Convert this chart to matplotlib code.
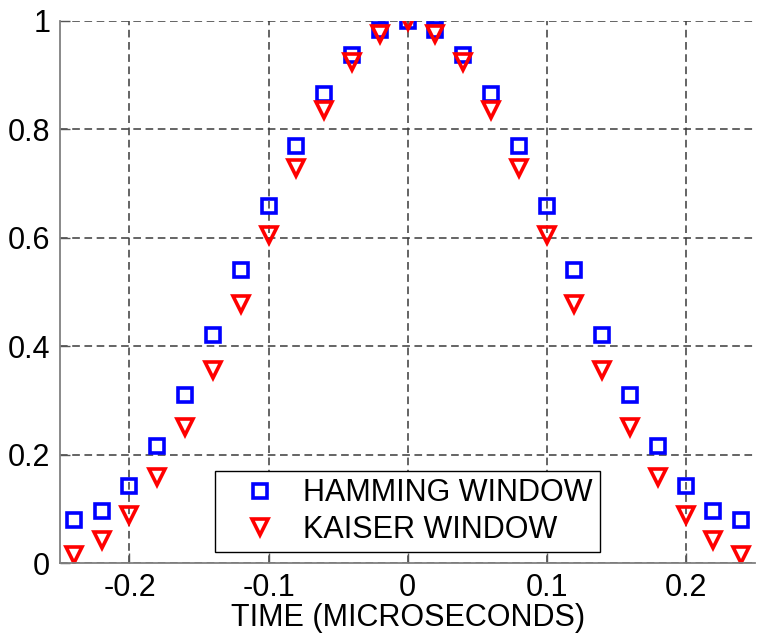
import matplotlib
matplotlib.use('Agg')
import matplotlib.pyplot as plt

plt.rcParams['font.family'] = ['Liberation Sans', 'DejaVu Sans']

# time samples (microseconds)
time_us = [-0.24, -0.22, -0.20, -0.18, -0.16, -0.14, -0.12, -0.10, -0.08, -0.06, -0.04, -0.02,
           0.0, 0.02, 0.04, 0.06, 0.08, 0.10, 0.12, 0.14, 0.16, 0.18, 0.20, 0.22, 0.24]

# window values
hamming = [0.080, 0.096, 0.142, 0.215, 0.310, 0.421, 0.540, 0.659, 0.770, 0.865, 0.938, 0.984,
           1.000, 0.984, 0.938, 0.865, 0.770, 0.659, 0.540, 0.421, 0.310, 0.215, 0.142, 0.096, 0.080]
kaiser = [0.014, 0.042, 0.089, 0.159, 0.251, 0.357, 0.478, 0.605, 0.729, 0.835, 0.924, 0.976,
          1.000, 0.976, 0.924, 0.835, 0.729, 0.605, 0.478, 0.357, 0.251, 0.159, 0.089, 0.042, 0.014]

x_ticks = [-0.2, -0.1, 0, 0.1, 0.2]
x_tick_labels = ['-0.2', '-0.1', '0', '0.1', '0.2']
y_ticks = [0, 0.2, 0.4, 0.6, 0.8, 1.0]
y_tick_labels = ['0', '0.2', '0.4', '0.6', '0.8', '1']

fig = plt.figure(figsize=(7.59, 6.4), dpi=100)
ax = fig.add_axes([0.079, 0.1203, 0.916, 0.8469])

ax.plot(time_us, hamming, linestyle='none', marker='s', markersize=10,
        markerfacecolor='none', markeredgecolor='#0000ff', markeredgewidth=2.6,
        label='HAMMING WINDOW')
ax.plot(time_us, kaiser, linestyle='none', marker='v', markersize=11.5,
        markerfacecolor='none', markeredgecolor='#ff0000', markeredgewidth=2.6,
        label='KAISER WINDOW')

ax.set_xlim(-0.25, 0.25)
ax.set_ylim(0, 1)
ax.set_xticks(x_ticks)
ax.set_xticklabels(x_tick_labels)
ax.set_yticks(y_ticks)
ax.set_yticklabels(y_tick_labels)
ax.tick_params(direction='in', length=7, width=1, colors='#555555', labelcolor='black',
               labelsize=22, pad=7)

for side in ['top', 'right']:
    ax.spines[side].set_visible(False)
for side in ['left', 'bottom']:
    ax.spines[side].set_color('#808080')
    ax.spines[side].set_linewidth(1.3)

ax.grid(True, color='#3a3a3a', linestyle=(0, (5, 3)), linewidth=1.1)
ax.set_axisbelow(True)

ax.set_xlabel('TIME (MICROSECONDS)', fontsize=22, labelpad=0)

leg = ax.legend(loc='lower center', bbox_to_anchor=(0.5, 0.02), fontsize=22,
                frameon=True, fancybox=False, edgecolor='black', framealpha=1,
                handletextpad=0.2, borderpad=0.25, labelspacing=0.2, handlelength=2.4,
                borderaxespad=0)
leg.get_frame().set_linewidth(1)

fig.savefig('out.png', dpi=100)
